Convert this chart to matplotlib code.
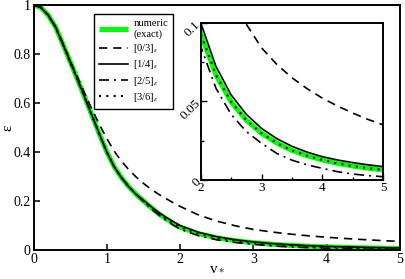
import matplotlib
matplotlib.use("Agg")
import matplotlib.pyplot as plt
from matplotlib.ticker import FixedLocator, FuncFormatter

plt.rcParams['font.family'] = ['Liberation Serif', 'DejaVu Serif']
plt.rcParams['mathtext.fontset'] = 'stix'

v = [0.0, 0.1, 0.2, 0.3, 0.4, 0.5, 0.6, 0.7, 0.8, 0.9, 1.0, 1.1, 1.2, 1.3, 1.4,
     1.5, 1.6, 1.7, 1.8, 1.9, 2.0, 2.25, 2.5, 2.75, 3.0, 3.25, 3.5, 3.75, 4.0,
     4.25, 4.5, 4.75, 5.0]

numeric = [1.0, 0.99, 0.958, 0.91, 0.84, 0.768, 0.696, 0.622, 0.547, 0.472, 0.400,
           0.340, 0.295, 0.258, 0.227, 0.200, 0.174, 0.150, 0.129, 0.110, 0.093,
           0.0668, 0.0497, 0.038, 0.0297, 0.0235, 0.0188, 0.0154, 0.0127, 0.01055,
           0.00886, 0.0075, 0.0064]

pade03 = [1.0, 0.99, 0.96, 0.912, 0.845, 0.772, 0.705, 0.638, 0.573, 0.511, 0.455,
          0.404, 0.362, 0.328, 0.298, 0.272, 0.249, 0.229, 0.211, 0.194, 0.178,
          0.143, 0.118, 0.099, 0.084, 0.0735, 0.065, 0.058, 0.052, 0.047, 0.0425,
          0.0385, 0.035]

pade14 = [1.0, 0.99, 0.958, 0.91, 0.84, 0.768, 0.696, 0.622, 0.547, 0.472, 0.400,
          0.340, 0.295, 0.258, 0.227, 0.203, 0.178, 0.155, 0.135, 0.117, 0.100,
          0.0723, 0.0541, 0.0417, 0.0328, 0.0263, 0.0214, 0.0177, 0.0148, 0.0127,
          0.01104, 0.00965, 0.0085]

pade25 = [1.0, 0.99, 0.958, 0.91, 0.84, 0.768, 0.696, 0.622, 0.547, 0.472, 0.400,
          0.340, 0.295, 0.258, 0.227, 0.197, 0.170, 0.145, 0.123, 0.103, 0.085,
          0.0584, 0.0417, 0.0308, 0.0233, 0.0169, 0.0126, 0.0096, 0.0074, 0.00526,
          0.00381, 0.0028, 0.0021]

pade36 = [1.0, 0.99, 0.958, 0.91, 0.84, 0.768, 0.696, 0.622, 0.547, 0.472, 0.400,
          0.340, 0.295, 0.258, 0.227, 0.200, 0.174, 0.150, 0.129, 0.110, 0.093,
          0.0668, 0.0497, 0.038, 0.0297, 0.0235, 0.0188, 0.0154, 0.0127, 0.01055,
          0.00886, 0.0075, 0.0064]

labels = ['numeric\n(exact)', r'[0/3]$_{\varepsilon}$', r'[1/4]$_{\varepsilon}$',
          r'[2/5]$_{\varepsilon}$', r'[3/6]$_{\varepsilon}$']

main_xticks = [0, 1, 2, 3, 4, 5]
main_yticks = [0, 0.2, 0.4, 0.6, 0.8, 1.0]
inset_xticks = [2, 3, 4, 5]
inset_yticks = [0, 0.05, 0.1]

W, H = 405, 279
fig = plt.figure(figsize=(W / 100, H / 100), dpi=100)

green = '#00ff00'
styles = [
    dict(color=green, lw=3.6, ls='-', solid_capstyle='butt'),
    dict(color='black', lw=1.2, ls=(0, (5, 3.5))),
    dict(color='black', lw=1.2, ls='-'),
    dict(color='black', lw=1.2, ls=(0, (6, 3, 1.2, 3))),
    dict(color='black', lw=1.5, ls=(0, (1, 2.5))),
]
series = [numeric, pade03, pade14, pade25, pade36]

def fmt(x, pos):
    return '%g' % x

ax = fig.add_axes([33.5 / W, 1 - 250 / H, 366.5 / W, 245 / H])
for ys, st, lb in zip(series, styles, labels):
    ax.plot(v, ys, label=lb, **st)
ax.set_xlim(0, 5)
ax.set_ylim(0, 1)
ax.xaxis.set_major_locator(FixedLocator(main_xticks))
ax.yaxis.set_major_locator(FixedLocator(main_yticks))
ax.xaxis.set_major_formatter(FuncFormatter(fmt))
ax.yaxis.set_major_formatter(FuncFormatter(fmt))
ax.tick_params(direction='in', length=4.5, width=1.1, labelsize=10, pad=2)
for s in ax.spines.values():
    s.set_linewidth(1.4)
ax.set_xlabel(r'v$_*$', fontsize=11)
ax.xaxis.set_label_coords(0.5, -0.045)
ax.set_ylabel('ε', fontsize=11, rotation=90)
ax.yaxis.set_label_coords(-0.052, 0.5)

leg = ax.legend(loc='upper left', bbox_to_anchor=(0.166, 0.962), fontsize=7.6,
                frameon=True, fancybox=False, edgecolor='black', framealpha=1,
                handlelength=2.7, handletextpad=0.55, labelspacing=0.3,
                borderpad=0.45, borderaxespad=0)
leg.get_frame().set_linewidth(1.0)

ins = fig.add_axes([200.7 / W, 1 - 180 / H, 182.6 / W, 157.3 / H])
for ys, st in zip(series, styles):
    ins.plot(v, ys, **st)
ins.set_xlim(2, 5)
ins.set_ylim(0, 0.1)
ins.xaxis.set_major_locator(FixedLocator(inset_xticks))
ins.xaxis.set_minor_locator(FixedLocator([2.5, 3.5, 4.5]))
ins.yaxis.set_major_locator(FixedLocator(inset_yticks))
ins.yaxis.set_minor_locator(FixedLocator([0.025, 0.075]))
ins.xaxis.set_major_formatter(FuncFormatter(fmt))
ins.yaxis.set_major_formatter(FuncFormatter(fmt))
ins.tick_params(which='major', direction='in', length=4.5, width=1.0, labelsize=9.5, pad=1.5)
ins.tick_params(which='minor', direction='in', length=2.5, width=1.0)
for lab in ins.get_yticklabels():
    lab.set_rotation(45)
    lab.set_ha('right')
    lab.set_va('center')
    lab.set_rotation_mode('anchor')
for s in ins.spines.values():
    s.set_linewidth(1.4)

fig.savefig('out.png', dpi=100)
